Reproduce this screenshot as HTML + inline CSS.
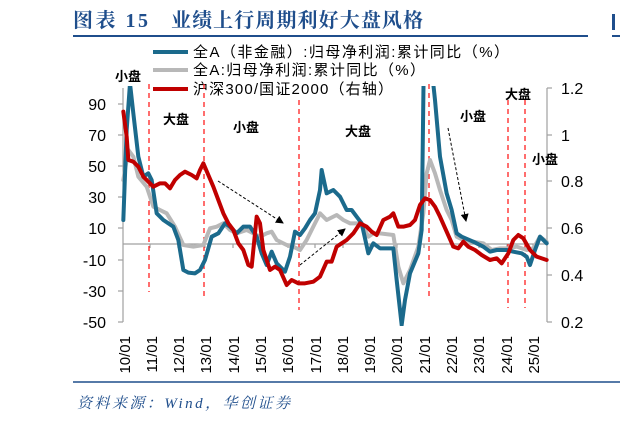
<!DOCTYPE html>
<html><head><meta charset="utf-8"><style>
body{margin:0;background:#fff;width:620px;height:423px;overflow:hidden}
svg{display:block}
.t{font-family:"Liberation Sans","Noto Sans CJK SC",sans-serif}
</style></head><body>
<svg width="620" height="423" viewBox="0 0 620 423" xmlns="http://www.w3.org/2000/svg">
<text x="73" y="27" font-family="'Liberation Serif','Noto Serif CJK SC',serif" font-weight="bold" font-size="20" fill="#1f4e8c" textLength="75">图表 15</text>
<text x="171" y="27" font-family="'Liberation Serif','Noto Serif CJK SC',serif" font-weight="bold" font-size="20" fill="#1f4e8c" textLength="252">业绩上行周期利好大盘风格</text>
<line x1="73" y1="36" x2="588" y2="36" stroke="#1f4e8c" stroke-width="2"/>
<rect x="612" y="14" width="3" height="16" fill="#1f4e8c"/>
<line x1="612" y1="36" x2="620" y2="36" stroke="#1f4e8c" stroke-width="2"/>

<!-- legend -->
<line x1="153" y1="52" x2="188" y2="52" stroke="#1b6a8c" stroke-width="4"/>
<line x1="153" y1="70" x2="188" y2="70" stroke="#b8b8b8" stroke-width="4"/>
<line x1="153" y1="89" x2="188" y2="89" stroke="#c00000" stroke-width="4"/>
<g class="t" font-size="15" fill="#000">
<text x="193" y="57" textLength="316" lengthAdjust="spacing">全A（非金融）:归母净利润:累计同比（%）</text>
<text x="193" y="75" textLength="232" lengthAdjust="spacing">全A:归母净利润:累计同比（%）</text>
<text x="193" y="94" textLength="200" lengthAdjust="spacing">沪深300/国证2000（右轴）</text>
</g>

<!-- axes -->
<g stroke="#a0a0a0" stroke-width="1.2" fill="none">
<line x1="123" y1="88" x2="123" y2="322"/>
<line x1="547" y1="88" x2="547" y2="322"/>
<line x1="123" y1="244" x2="547" y2="244"/>
<line x1="118" y1="104" x2="123" y2="104"/><line x1="118" y1="135" x2="123" y2="135"/><line x1="118" y1="166" x2="123" y2="166"/><line x1="118" y1="197" x2="123" y2="197"/><line x1="118" y1="228" x2="123" y2="228"/><line x1="118" y1="260" x2="123" y2="260"/><line x1="118" y1="291" x2="123" y2="291"/><line x1="118" y1="322" x2="123" y2="322"/>
<line x1="547" y1="88" x2="552" y2="88"/><line x1="547" y1="135" x2="552" y2="135"/><line x1="547" y1="181" x2="552" y2="181"/><line x1="547" y1="228" x2="552" y2="228"/><line x1="547" y1="275" x2="552" y2="275"/><line x1="547" y1="322" x2="552" y2="322"/>
<line x1="150" y1="244" x2="150" y2="248"/><line x1="178" y1="244" x2="178" y2="248"/><line x1="205" y1="244" x2="205" y2="248"/><line x1="233" y1="244" x2="233" y2="248"/><line x1="260" y1="244" x2="260" y2="248"/><line x1="288" y1="244" x2="288" y2="248"/><line x1="315" y1="244" x2="315" y2="248"/><line x1="343" y1="244" x2="343" y2="248"/><line x1="370" y1="244" x2="370" y2="248"/><line x1="397" y1="244" x2="397" y2="248"/><line x1="424" y1="244" x2="424" y2="248"/><line x1="452" y1="244" x2="452" y2="248"/><line x1="479" y1="244" x2="479" y2="248"/><line x1="507" y1="244" x2="507" y2="248"/><line x1="533" y1="244" x2="533" y2="248"/>
</g>
<g class="t" font-size="16" fill="#000" text-anchor="end">
<text x="106" y="110">90</text><text x="106" y="141">70</text><text x="106" y="172">50</text><text x="106" y="203">30</text><text x="106" y="234">10</text><text x="106" y="266">-10</text><text x="106" y="297">-30</text><text x="106" y="328">-50</text>
</g>
<g class="t" font-size="16" fill="#000">
<text x="561" y="94">1.2</text><text x="561" y="141">1</text><text x="561" y="187">0.8</text><text x="561" y="234">0.6</text><text x="561" y="281">0.4</text><text x="561" y="328">0.2</text>
</g>
<g class="t" font-size="15" fill="#000" text-anchor="end">
<text transform="translate(130,336) rotate(-90)">10/01</text>
<text transform="translate(157,336) rotate(-90)">11/01</text>
<text transform="translate(184,336) rotate(-90)">12/01</text>
<text transform="translate(211,336) rotate(-90)">13/01</text>
<text transform="translate(239,336) rotate(-90)">14/01</text>
<text transform="translate(266,336) rotate(-90)">15/01</text>
<text transform="translate(293,336) rotate(-90)">16/01</text>
<text transform="translate(321,336) rotate(-90)">17/01</text>
<text transform="translate(348,336) rotate(-90)">18/01</text>
<text transform="translate(375,336) rotate(-90)">19/01</text>
<text transform="translate(402,336) rotate(-90)">20/01</text>
<text transform="translate(430,336) rotate(-90)">21/01</text>
<text transform="translate(457,336) rotate(-90)">22/01</text>
<text transform="translate(484,336) rotate(-90)">23/01</text>
<text transform="translate(512,336) rotate(-90)">24/01</text>
<text transform="translate(539,336) rotate(-90)">25/01</text>
</g>

<!-- dashed verticals -->
<g stroke="#ff2020" stroke-width="1.3" stroke-dasharray="5,4">
<line x1="149" y1="84" x2="149" y2="292"/>
<line x1="204" y1="84" x2="204" y2="297"/>
<line x1="299" y1="100" x2="299" y2="310"/>
<line x1="429" y1="84" x2="429" y2="300"/>
<line x1="508" y1="100" x2="508" y2="308"/>
<line x1="525" y1="100" x2="525" y2="308"/>
</g>

<defs><clipPath id="c"><rect x="118" y="86" width="432" height="240"/></clipPath>
<marker id="ah" markerWidth="8" markerHeight="8" refX="7" refY="4" orient="auto" markerUnits="userSpaceOnUse"><path d="M0,0 L8,4 L0,8 z" fill="#000"/></marker></defs>

<g clip-path="url(#c)">
<g transform="translate(60,80) scale(0.33333)" fill="none" stroke-width="12" stroke-linejoin="round" stroke-linecap="round">
<polyline stroke="#b8b8b8" points="190,300 205,210 220,230 235,290 260,320 280,380 300,390 320,400 345,440 370,495 400,500 430,495 450,445 470,440 490,430 510,450 530,460 560,450 580,460 600,470 620,460 635,455 650,480 680,495 700,500 720,510 740,480 760,440 780,400 800,420 830,405 850,420 870,430 890,430 910,440 925,470 940,460 960,460 1000,465 1015,560 1030,610 1050,570 1075,500 1090,400 1100,280 1110,240 1125,280 1140,330 1160,390 1175,420 1190,470 1210,480 1240,485 1270,490 1295,510 1320,505 1345,505 1370,500 1400,510 1420,505 1440,470 1460,485"/>
<polyline stroke="#1b6a8c" points="190,420 200,150 210,10 220,100 235,230 250,290 265,280 275,300 290,400 310,420 340,440 355,480 370,570 385,578 405,580 420,570 435,540 455,470 475,460 495,430 510,440 530,460 550,440 570,440 590,470 605,520 620,555 635,515 650,550 675,575 690,530 705,455 720,465 735,445 750,420 765,400 780,330 785,270 800,340 820,330 840,350 860,390 875,390 890,410 905,430 925,520 940,490 960,505 1000,505 1010,600 1025,735 1035,660 1050,580 1075,520 1085,450 1092,-100 1100,-100 1108,-100 1125,60 1140,230 1160,340 1175,390 1190,460 1205,470 1240,485 1270,500 1290,515 1310,510 1340,510 1360,515 1385,520 1400,530 1410,555 1425,510 1440,470 1460,490"/>
<polyline stroke="#c00000" points="190,95 200,170 205,240 220,245 235,260 250,290 265,305 280,320 300,310 315,310 330,325 345,300 360,285 375,275 395,285 410,295 420,270 430,250 445,285 460,320 475,360 490,400 505,430 520,450 535,490 550,510 565,555 575,560 590,410 600,430 610,510 630,570 645,560 660,570 680,615 695,600 715,610 735,610 760,605 780,590 800,545 815,545 830,500 845,490 860,480 880,460 900,430 920,440 935,455 950,465 970,420 990,410 1000,400 1015,440 1030,440 1050,435 1065,420 1080,375 1095,355 1110,360 1125,380 1140,410 1160,455 1180,500 1195,505 1210,485 1225,500 1245,510 1265,525 1290,540 1310,535 1325,550 1345,520 1360,480 1375,465 1390,475 1410,510 1430,530 1460,540"/>
</g>
</g>

<!-- arrows -->
<g stroke="#000" stroke-width="1" stroke-dasharray="3,2" fill="none">
<line x1="218" y1="181" x2="283" y2="223" marker-end="url(#ah)"/>
<line x1="300" y1="265" x2="345" y2="229" marker-end="url(#ah)"/>
<line x1="448" y1="128" x2="466" y2="221" marker-end="url(#ah)"/>
</g>

<g font-family="'Noto Sans CJK SC',sans-serif" font-weight="bold" font-size="13" fill="#000" text-anchor="middle">
<text x="128" y="81">小盘</text>
<text x="176" y="124">大盘</text>
<text x="246" y="132">小盘</text>
<text x="358" y="136">大盘</text>
<text x="473" y="121">小盘</text>
<text x="518" y="99">大盘</text>
<text x="545" y="164">小盘</text>
</g>

<line x1="73" y1="382" x2="620" y2="382" stroke="#1f4e8c" stroke-width="1.5"/>
<text x="77" y="408" font-family="'Liberation Serif','Noto Serif CJK SC',serif" font-style="italic" font-size="15" fill="#1f4e8c" textLength="213" lengthAdjust="spacing">资料来源：Wind，华创证券</text>
</svg>
</body></html>
